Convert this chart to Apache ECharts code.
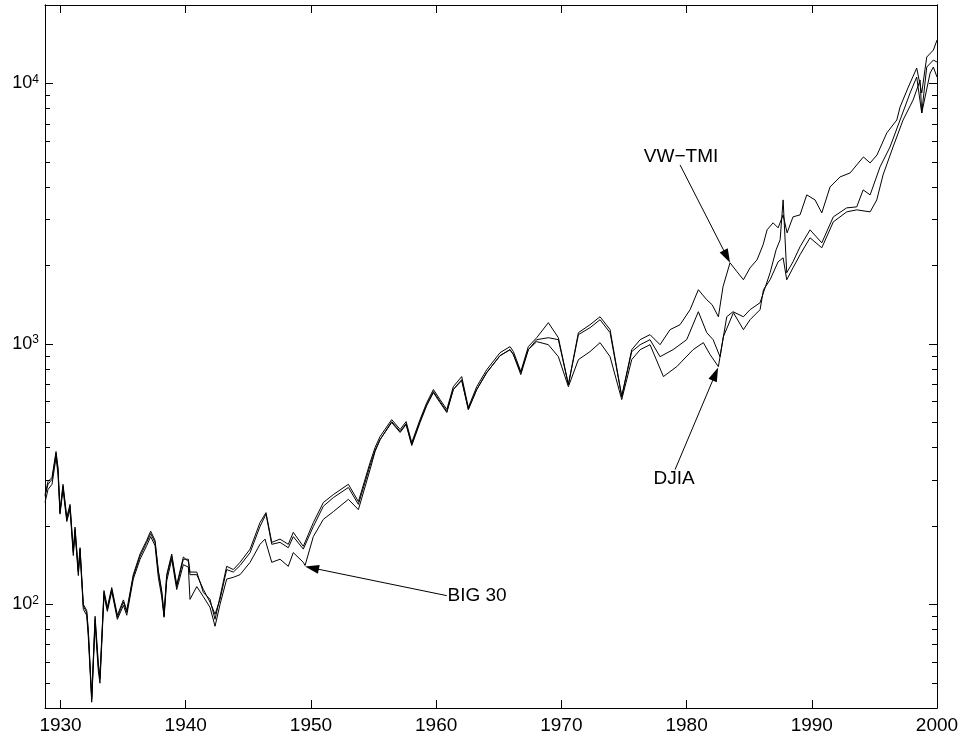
<!DOCTYPE html>
<html>
<head>
<meta charset="utf-8">
<script src="https://cdn.jsdelivr.net/npm/echarts@6/dist/echarts.min.js"></script>
<style>
  html, body { margin: 0; padding: 0; background: #fff; }
  #chart { width: 964px; height: 742px; }
</style>
</head>
<body>
<div id="chart"></div>
<script>
// index levels: [year, level]
const vwTmi = [
  [1928.76, 260], [1929.00, 289], [1929.32, 302], [1929.64, 379], [1929.80, 329], [1929.96, 225],
  [1930.20, 284], [1930.50, 212], [1930.76, 238], [1931.02, 158], [1931.16, 194], [1931.42, 133],
  [1931.56, 163], [1931.82, 98.3], [1932.09, 93.2], [1932.22, 78.1], [1932.49, 43.2], [1932.76, 87.6],
  [1933.02, 57.8], [1933.15, 51.6], [1933.47, 111], [1933.74, 95.7], [1934.09, 114], [1934.54, 89.2],
  [1935.02, 102], [1935.29, 93.2], [1935.81, 128], [1936.35, 153], [1936.88, 173], [1937.20, 187],
  [1937.55, 173], [1937.81, 133], [1938.08, 111], [1938.27, 90.0], [1938.48, 128], [1938.88, 153],
  [1939.28, 117], [1939.81, 149], [1940.21, 149], [1940.34, 133], [1940.88, 133], [1941.41, 111],
  [1941.94, 104.5], [1942.34, 87.6], [1942.74, 107], [1943.27, 140], [1943.80, 136], [1944.34, 145],
  [1945.14, 163], [1945.93, 206], [1946.41, 225], [1946.87, 173], [1947.53, 178], [1948.19, 170],
  [1948.59, 189], [1949.39, 167], [1950.19, 206], [1950.99, 246], [1951.79, 264], [1952.99, 289],
  [1953.79, 248], [1954.72, 350], [1955.12, 400], [1955.52, 441], [1956.45, 512], [1957.12, 469],
  [1957.60, 503], [1958.05, 418], [1958.71, 512], [1959.25, 595], [1959.78, 668], [1960.31, 611],
  [1960.85, 560], [1961.37, 685], [1962.04, 749], [1962.57, 570], [1963.24, 685], [1964.04, 796],
  [1965.10, 925], [1965.90, 976], [1966.17, 934], [1966.76, 783], [1967.36, 976], [1968.03, 1056],
  [1968.96, 1206], [1969.76, 1056], [1970.56, 698], [1971.36, 1104], [1972.29, 1185], [1973.09, 1271],
  [1973.89, 1134], [1974.82, 628], [1975.62, 950], [1976.29, 1038], [1977.08, 1085], [1977.88, 993],
  [1978.68, 1134], [1979.48, 1185], [1980.28, 1353], [1980.94, 1614], [1981.61, 1477], [1982.04, 1414],
  [1982.54, 1271], [1982.91, 1657], [1983.47, 2048], [1984.03, 1892], [1984.54, 1763], [1985.07, 1959],
  [1985.63, 2103], [1986.11, 2401], [1986.43, 2740], [1986.91, 2915], [1987.31, 2789], [1987.71, 3128],
  [1988.03, 2669], [1988.50, 3074], [1989.06, 3128], [1989.60, 3733], [1990.26, 3571], [1990.80, 3184],
  [1991.46, 4006], [1992.26, 4375], [1993.06, 4533], [1994.12, 5220], [1994.66, 4951], [1995.21, 5313],
  [1995.99, 6452], [1996.79, 7237], [1997.05, 8117], [1997.71, 9684], [1998.38, 11452], [1998.78, 9185],
  [1999.18, 12620], [1999.71, 13425], [2000.00, 14664]
];

const big30 = [
  [1928.76, 246], [1929.00, 276], [1929.32, 289], [1929.64, 366], [1929.80, 315], [1929.96, 222],
  [1930.20, 276], [1930.50, 208], [1930.76, 231], [1931.02, 154], [1931.16, 189], [1931.42, 129],
  [1931.56, 158], [1931.82, 95.7], [1932.09, 90.8], [1932.22, 74.7], [1932.49, 42.1], [1932.76, 84.6],
  [1933.02, 55.4], [1933.15, 49.8], [1933.47, 108], [1933.74, 94.0], [1934.09, 112], [1934.54, 87.6],
  [1935.02, 99.1], [1935.29, 90.8], [1935.81, 125], [1936.35, 149], [1936.88, 168], [1937.20, 182],
  [1937.55, 168], [1937.81, 127], [1938.08, 107], [1938.27, 89.2], [1938.48, 123], [1938.88, 149],
  [1939.28, 114], [1939.81, 142], [1940.21, 139], [1940.34, 104.5], [1940.88, 117], [1941.41, 107],
  [1941.94, 97.4], [1942.34, 82.4], [1942.74, 100], [1943.27, 125], [1943.80, 127], [1944.34, 130],
  [1945.14, 145], [1945.93, 170], [1946.33, 178], [1946.87, 145], [1947.53, 149], [1948.19, 140],
  [1948.59, 158], [1949.39, 145], [1949.53, 141], [1950.19, 182], [1950.99, 212], [1951.79, 227],
  [1952.99, 253], [1953.79, 231], [1954.72, 329], [1955.12, 386], [1955.52, 429], [1956.45, 499],
  [1957.12, 457], [1957.60, 490], [1958.05, 407], [1958.71, 499], [1959.25, 580], [1959.78, 650],
  [1960.31, 595], [1960.85, 545], [1961.37, 668], [1962.04, 729], [1962.57, 560], [1963.24, 668],
  [1964.04, 776], [1965.10, 901], [1965.90, 950], [1966.17, 909], [1966.76, 762], [1967.36, 950],
  [1968.03, 1038], [1968.96, 1056], [1969.76, 1038], [1970.56, 698], [1971.36, 1085], [1972.29, 1154],
  [1973.09, 1238], [1973.89, 1104], [1974.82, 628], [1975.62, 934], [1976.29, 993], [1977.08, 1038],
  [1977.88, 893], [1978.92, 950], [1980.01, 1038], [1980.94, 1329], [1981.61, 1104], [1982.12, 1038],
  [1982.67, 893], [1983.21, 1271], [1983.71, 1329], [1984.54, 1271], [1985.07, 1353], [1985.87, 1439],
  [1986.67, 1875], [1987.15, 2297], [1987.47, 2509], [1987.71, 3571], [1988.00, 1875], [1988.50, 2066],
  [1989.06, 2359], [1989.86, 2740], [1990.80, 2443], [1991.72, 3074], [1992.79, 3328], [1993.59, 3357],
  [1994.10, 3901], [1994.66, 3733], [1995.45, 4779], [1996.25, 5702], [1997.05, 7237], [1997.85, 9185],
  [1998.38, 10578], [1998.78, 7698], [1999.18, 11554], [1999.71, 12290], [2000.00, 12076]
];

const djia = [
  [1928.76, 264], [1929.00, 296], [1929.32, 307], [1929.64, 386], [1929.80, 335], [1929.96, 229],
  [1930.20, 289], [1930.50, 216], [1930.76, 242], [1931.02, 161], [1931.16, 198], [1931.42, 135],
  [1931.56, 165], [1931.82, 100], [1932.09, 94.8], [1932.22, 79.5], [1932.49, 44.0], [1932.76, 90.0],
  [1933.02, 59.4], [1933.15, 53.0], [1933.47, 113], [1933.74, 97.4], [1934.09, 116], [1934.54, 90.8],
  [1935.02, 104], [1935.29, 94.8], [1935.81, 130], [1936.35, 156], [1936.88, 176], [1937.20, 191],
  [1937.55, 176], [1937.81, 135], [1938.08, 113], [1938.27, 92.4], [1938.48, 130], [1938.88, 156],
  [1939.28, 119], [1939.81, 152], [1940.21, 146], [1940.34, 130], [1940.88, 130], [1941.41, 114],
  [1941.94, 102], [1942.34, 91.6], [1942.74, 104.5], [1943.27, 136], [1943.80, 133], [1944.34, 141],
  [1945.14, 158], [1945.93, 199], [1946.41, 222], [1946.87, 170], [1947.53, 173], [1948.19, 165],
  [1948.59, 182], [1949.39, 163], [1950.19, 199], [1950.99, 238], [1951.79, 257], [1952.99, 281],
  [1953.79, 242], [1954.72, 341], [1955.12, 390], [1955.52, 429], [1956.45, 503], [1957.12, 461],
  [1957.60, 494], [1958.05, 411], [1958.71, 503], [1959.25, 585], [1959.78, 656], [1960.31, 601],
  [1960.85, 550], [1961.37, 668], [1962.04, 723], [1962.57, 560], [1963.24, 668], [1964.04, 776],
  [1965.10, 901], [1965.90, 950], [1966.17, 909], [1966.76, 776], [1967.36, 950], [1968.03, 1020],
  [1968.96, 993], [1969.76, 893], [1970.56, 685], [1971.36, 870], [1972.29, 934], [1973.09, 1011],
  [1973.89, 893], [1974.82, 611], [1975.62, 870], [1976.29, 950], [1977.08, 993], [1978.15, 749],
  [1979.22, 818], [1980.52, 950], [1981.34, 1011], [1981.88, 909], [1982.54, 818], [1982.94, 1066],
  [1983.74, 1317], [1984.54, 1134], [1985.07, 1238], [1985.87, 1353], [1986.14, 1614], [1986.67, 1763],
  [1987.31, 2066], [1987.71, 2140], [1988.00, 1763], [1988.50, 1959], [1989.06, 2198], [1989.86, 2554],
  [1990.80, 2338], [1991.72, 2941], [1992.79, 3212], [1993.59, 3270], [1994.66, 3212], [1995.19, 3571],
  [1995.69, 4453], [1996.49, 5702], [1997.29, 7237], [1998.09, 8634], [1998.65, 10301], [1998.78, 7698],
  [1999.45, 10958], [1999.71, 11554], [2000.00, 10578]
];

// axis ticks
const yearTicks = [1930, 1940, 1950, 1960, 1970, 1980, 1990, 2000];
const decadeTicks = [100, 1000, 10000];
const minorTicks = [50, 60, 70, 80, 90, 200, 300, 400, 500, 600, 700, 800, 900,
  2000, 3000, 4000, 5000, 6000, 7000, 8000, 9000];

// annotations: label text, label position, arrow start, arrow tip
const notes = [
  { name: 'VW−TMI', text: [1979.56, 5220], from: [1979.48, 4864], to: [1983.22, 2163] },
  { name: 'DJIA', text: [1979.00, 304], from: [1979.08, 329], to: [1982.30, 766] },
  { name: 'BIG 30', text: [1963.27, 108], from: [1960.85, 108], to: [1950.08, 138] }
];

const FONT = 'Liberation Sans, Arial, Helvetica, sans-serif';
const X_MIN = 1928.76, X_MAX = 2000, Y_MIN = 40, Y_MAX = 20000;

const chart = echarts.init(document.getElementById('chart'));

function xAxisOf(position, showLabels) {
  return {
    type: 'value',
    position: position,
    min: X_MIN,
    max: X_MAX,
    axisLine: { show: true, onZero: false, lineStyle: { color: '#000', width: 1 } },
    axisTick: { show: true, inside: true, length: 8, customValues: yearTicks, lineStyle: { color: '#000' } },
    axisLabel: {
      show: showLabels,
      customValues: yearTicks,
      margin: 8,
      color: '#000',
      fontSize: 19,
      fontFamily: FONT,
      formatter: function (v) { return String(Math.round(v)); }
    },
    splitLine: { show: false }
  };
}

function yAxisOf(position, ticks, len, showLabels) {
  return {
    type: 'log',
    logBase: 10,
    position: position,
    min: Y_MIN,
    max: Y_MAX,
    axisLine: { show: true, lineStyle: { color: '#000', width: 1 } },
    axisTick: { show: true, inside: true, length: len, customValues: ticks, lineStyle: { color: '#000' } },
    axisLabel: {
      show: showLabels,
      customValues: ticks,
      margin: 6,
      formatter: function (v) {
        const e = Math.round(Math.log10(v));
        return '{b|10}{s|' + e + '}';
      },
      rich: {
        b: { fontSize: 18, fontFamily: FONT, color: '#000', lineHeight: 20 },
        s: { fontSize: 12, fontFamily: FONT, color: '#000', lineHeight: 12, verticalAlign: 'top' }
      }
    },
    splitLine: { show: false },
    minorTick: { show: false }
  };
}

function lineSeries(name, data, note) {
  return {
    name: name,
    type: 'line',
    data: data,
    xAxisIndex: 0,
    yAxisIndex: 0,
    showSymbol: false,
    symbol: 'none',
    lineStyle: { color: '#000', width: 1 },
    silent: true,
    markLine: {
      silent: true,
      animation: false,
      symbol: ['none', 'triangle'],
      symbolSize: [9, 14],
      lineStyle: { color: '#000', width: 1, type: 'solid' },
      itemStyle: { color: '#000' },
      label: { show: false },
      data: [[{ coord: note.from }, { coord: note.to }]]
    },
    markPoint: {
      silent: true,
      animation: false,
      symbol: 'circle',
      symbolSize: 0,
      label: {
        show: true,
        position: 'inside',
        color: '#000',
        fontSize: 19,
        fontFamily: FONT,
        formatter: note.name
      },
      data: [{ coord: note.text }]
    }
  };
}

const option = {
  backgroundColor: '#fff',
  animation: false,
  grid: { left: 45, right: 27, top: 5, bottom: 34 },
  xAxis: [xAxisOf('bottom', true), xAxisOf('top', false)],
  yAxis: [
    yAxisOf('left', decadeTicks, 8, true),
    yAxisOf('left', minorTicks, 5, false),
    yAxisOf('right', decadeTicks, 8, false),
    yAxisOf('right', minorTicks, 5, false)
  ],
  series: [
    lineSeries('VW-TMI', vwTmi, notes[0]),
    lineSeries('DJIA', djia, notes[1]),
    lineSeries('BIG 30', big30, notes[2])
  ]
};

chart.setOption(option);
</script>
</body>
</html>
